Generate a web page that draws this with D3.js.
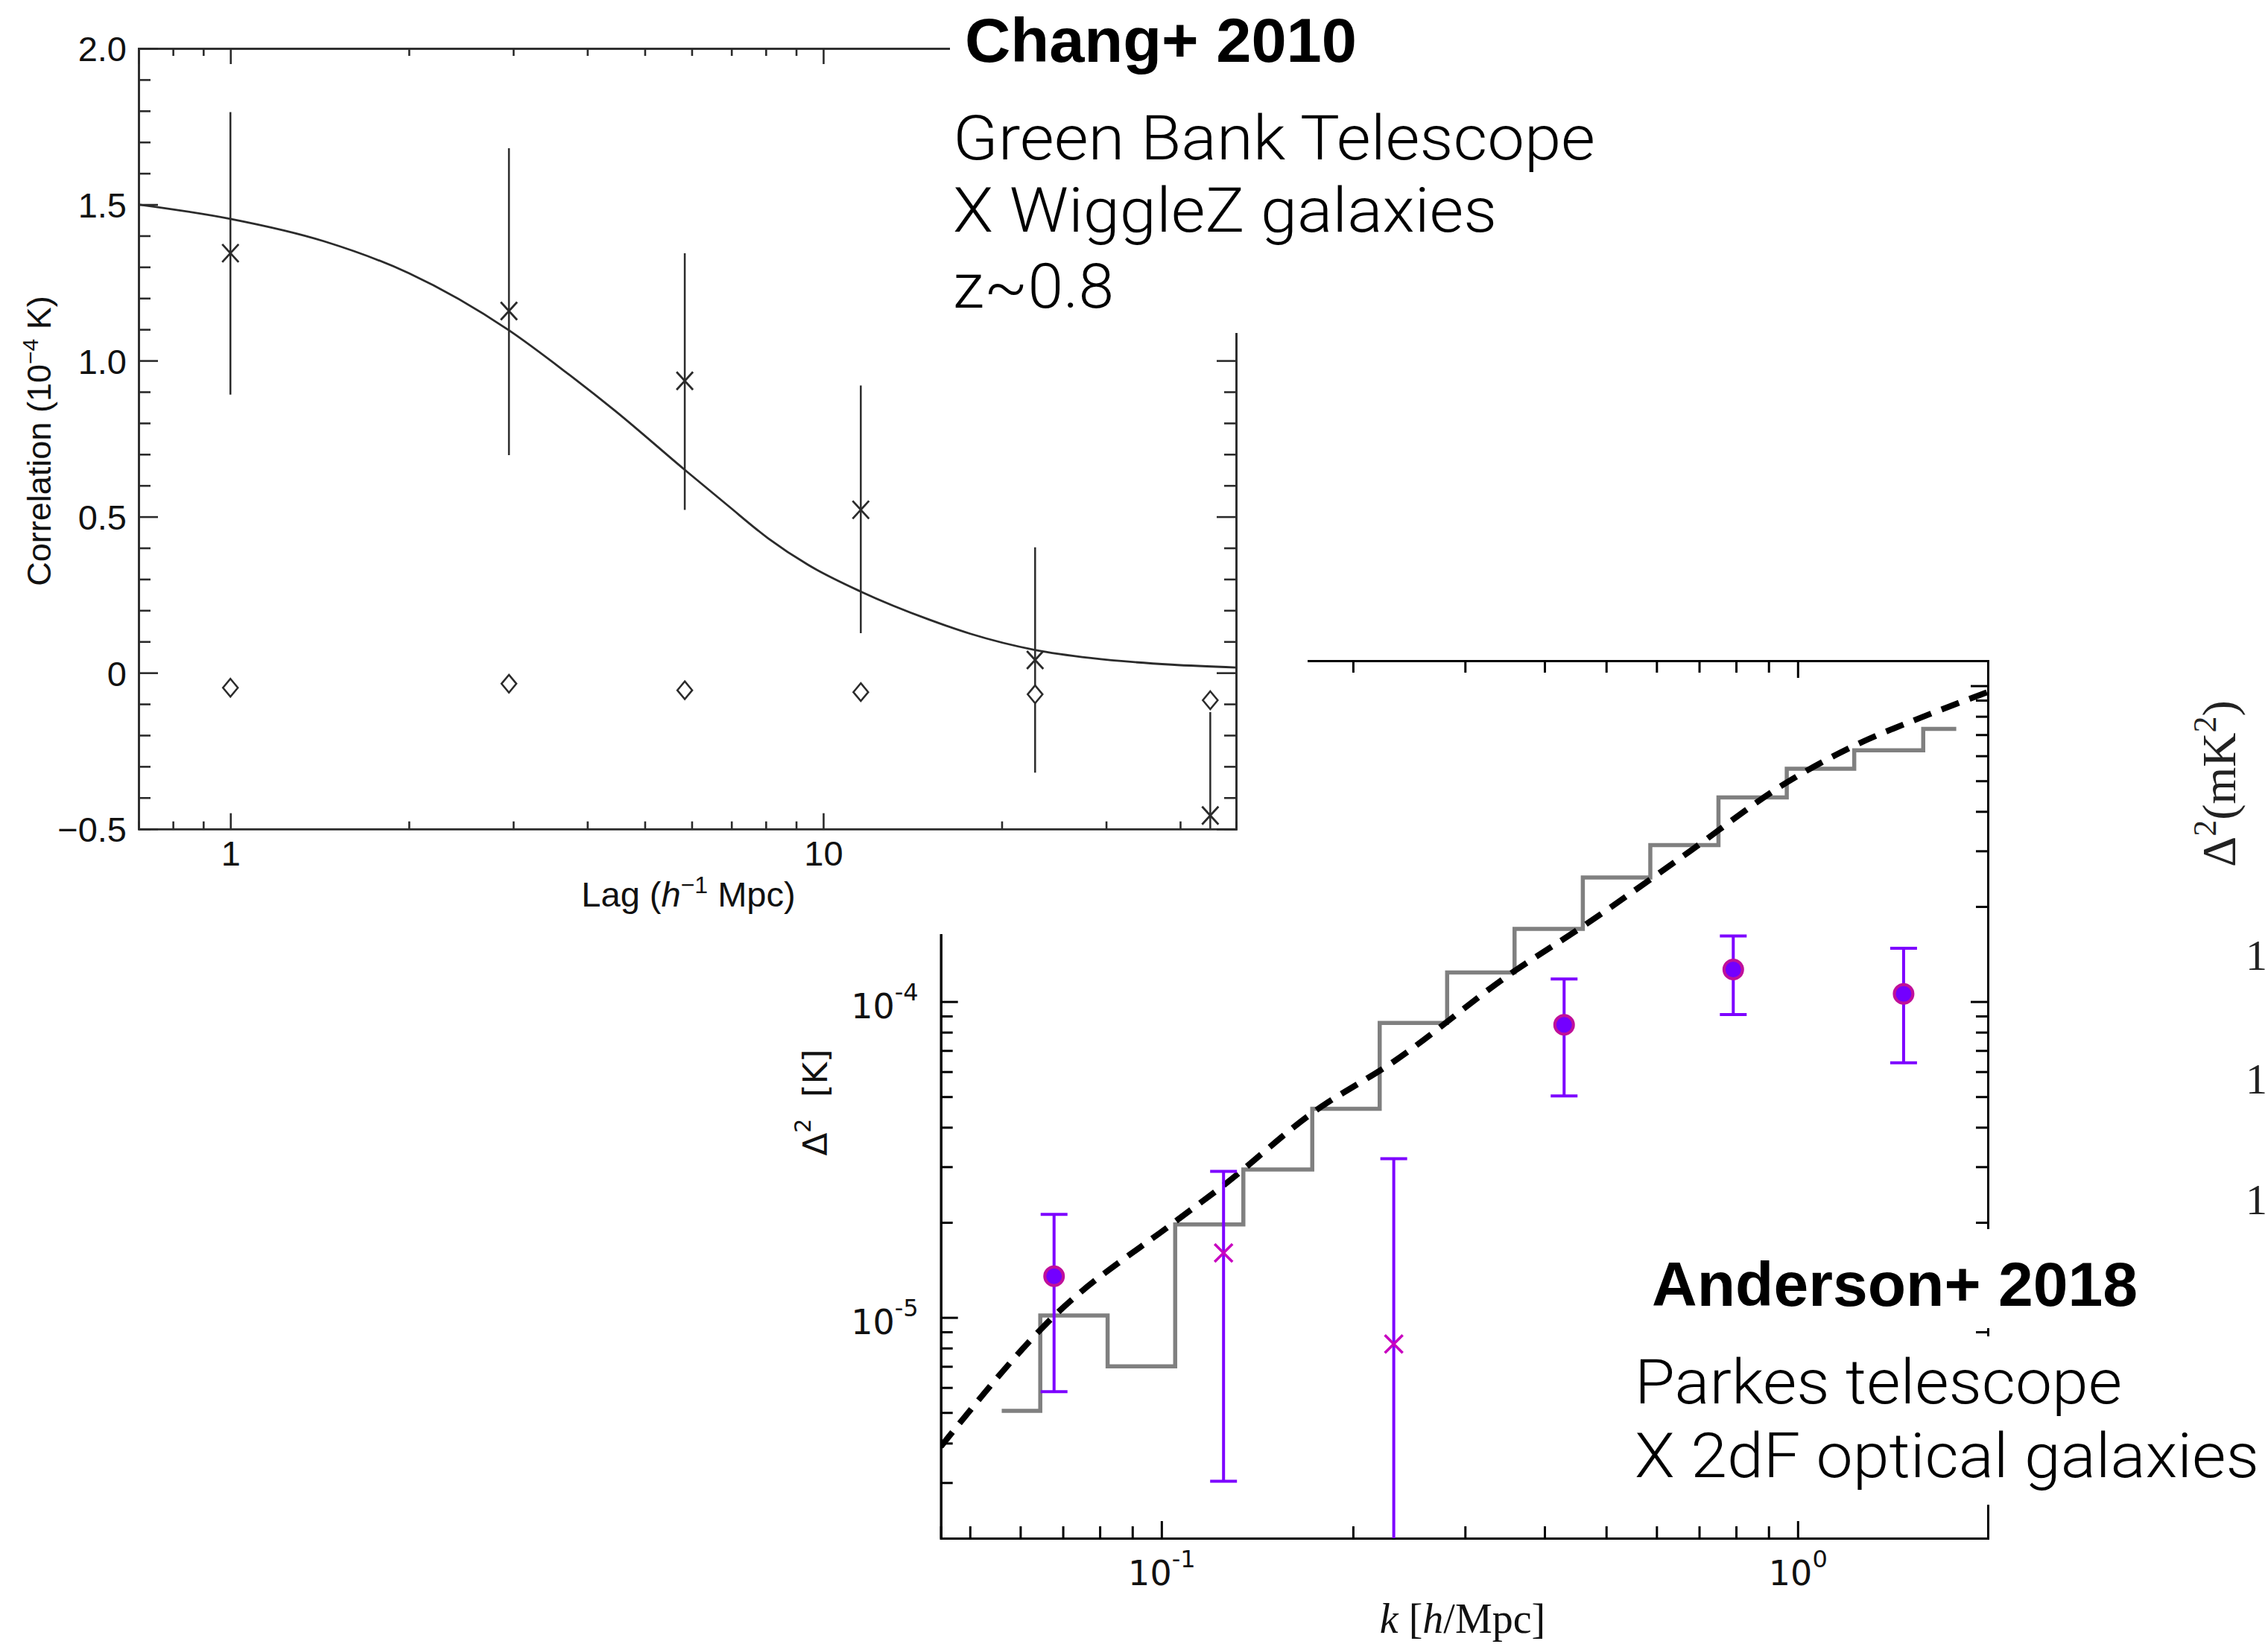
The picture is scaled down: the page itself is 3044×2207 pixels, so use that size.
<!DOCTYPE html>
<html>
<head>
<meta charset="utf-8">
<script src="https://cdn.jsdelivr.net/npm/d3@7/dist/d3.min.js"></script>
<style>
  body { margin: 0; background: #fff; }
  svg { display: block; }
</style>
</head>
<body>
<div id="chart"></div>
<script>
// Chang+ 2010 : correlation vs lag
var lag = [1, 2.95, 5.84, 11.57, 22.77, 44.96];
var corr = [1.344, 1.159, 0.935, 0.522, 0.041, -0.457];
var corrHi = [1.796, 1.680, 1.344, 0.920, 0.402, -0.126];
var corrLo = [0.891, 0.697, 0.522, 0.127, -0.320, -0.5];
var nullCorr = [-0.048, -0.035, -0.056, -0.062, -0.069, -0.088];
var modelLag = [0.70, 1.0, 1.44, 2.0, 2.95, 3.68, 4.45, 5.84, 6.90, 8.07, 9.44, 11.57, 15.1, 17.7, 22.77, 28.3, 38.7, 49.7];
var modelCorr = [1.500, 1.454, 1.382, 1.280, 1.097, 0.963, 0.840, 0.650, 0.536, 0.431, 0.345, 0.260, 0.170, 0.125, 0.073, 0.047, 0.026, 0.017];
var corrTicks = [2.0, 1.5, 1.0, 0.5, 0, -0.5];
var corrLabels = ['2.0', '1.5', '1.0', '0.5', '0', '\u22120.5'];
var corrMinor = [1.9, 1.8, 1.7, 1.6, 1.4, 1.3, 1.2, 1.1, 0.9, 0.8, 0.7, 0.6, 0.4, 0.3, 0.2, 0.1, -0.1, -0.2, -0.3, -0.4];
var lagTicks = [1, 10];
var lagMinor = [0.8, 0.9, 2, 3, 4, 5, 6, 7, 8, 9, 20, 30, 40];

// Anderson+ 2018 : Delta^2 vs k
var kDot = [0.0678, 0.4294, 0.792, 1.467];
var dDot = [1.35e-5, 8.44e-5, 1.264e-4, 1.058e-4];
var dDotHi = [2.12e-5, 1.179e-4, 1.614e-4, 1.476e-4];
var dDotLo = [5.82e-6, 5.03e-5, 9.1e-5, 6.4e-5];
var kCross = [0.1252, 0.2318];
var dCross = [1.6e-5, 8.24e-6];
var dCrossHi = [2.9e-5, 3.18e-5];
var dCrossLo = [3.03e-6, 1.5e-6];
var kEdges = [0.0561, 0.0645, 0.0823, 0.1051, 0.1345, 0.1726, 0.2203, 0.2812, 0.3589, 0.4595, 0.5866, 0.7507, 0.9612, 1.227, 1.575, 1.775];
var dStep = [5.06e-6, 1.015e-5, 7.0e-6, 1.97e-5, 2.94e-5, 4.58e-5, 8.56e-5, 1.236e-4, 1.70e-4, 2.47e-4, 3.13e-4, 4.43e-4, 5.46e-4, 6.25e-4, 7.30e-4];
var kModel = [0.045, 0.0678, 0.1047, 0.1252, 0.1726, 0.2318, 0.3547, 0.4595, 0.6624, 0.9612, 1.227, 1.575, 1.99];
var dModel = [3.9e-6, 1.01e-5, 2.0e-5, 2.62e-5, 4.44e-5, 6.46e-5, 1.23e-4, 1.73e-4, 2.90e-4, 4.94e-4, 6.46e-4, 7.98e-4, 9.55e-4];
var kTicks = [0.1, 1];
var kLabels = ['-1', '0'];
var kMinor = [0.05, 0.06, 0.07, 0.08, 0.09, 0.2, 0.3, 0.4, 0.5, 0.6, 0.7, 0.8, 0.9];
var dTicks = [1e-5, 1e-4, 1e-3];
var dLabels = ['-5', '-4', '-3'];
var dMinor = [2e-6, 3e-6, 4e-6, 5e-6, 6e-6, 7e-6, 8e-6, 9e-6, 2e-5, 3e-5, 4e-5, 5e-5, 6e-5, 7e-5, 8e-5, 9e-5, 2e-4, 3e-4, 4e-4, 5e-4, 6e-4, 7e-4, 8e-4, 9e-4];

// third panel peeking in on the right (only the first digit of its labels shows)
var farTickY = [1283, 1449, 1611];

var width = 3044, height = 2207;
var svg = d3.select('#chart').append('svg')
    .attr('width', width)
    .attr('height', height);
svg.append('rect').attr('width', width).attr('height', height).attr('fill', '#fff');

function styleAxis(g, color, w) {
    g.selectAll('path, line').attr('stroke', color).attr('stroke-width', w);
    return g;
}

// ---------------- Anderson+ 2018 ----------------
var ax = d3.scaleLog().domain([0.045, 1.99]).range([1262.7, 2668]);
var ay = d3.scaleLog().domain([2.0e-6, 1.2e-3]).range([2065, 887]);
var A = svg.append('g');

A.append('clipPath').attr('id', 'clipA').append('rect')
    .attr('x', ax.range()[0]).attr('y', ay.range()[1])
    .attr('width', ax.range()[1] - ax.range()[0])
    .attr('height', ay.range()[0] - ay.range()[1]);

var aBottom = A.append('g').attr('transform', 'translate(0,' + ay.range()[0] + ')');
styleAxis(aBottom.call(d3.axisBottom(ax).tickValues(kMinor).tickSize(-16).tickFormat('')), '#000', 3);
var aBottomMaj = A.append('g').attr('transform', 'translate(0,' + ay.range()[0] + ')')
    .call(d3.axisBottom(ax).tickValues(kTicks).tickSizeInner(-23).tickSizeOuter(0).tickPadding(30));
styleAxis(aBottomMaj, '#000', 3);
aBottomMaj.attr('font-family', 'DejaVu Sans').attr('font-size', 46);
aBottomMaj.selectAll('text').each(function (d, i) {
    var t = d3.select(this).text(null).attr('fill', '#111').attr('dy', '0.71em');
    t.append('tspan').text('10');
    t.append('tspan').attr('dy', -24).attr('font-size', 32).text(kLabels[i]);
});

var aTop = A.append('g').attr('transform', 'translate(0,' + ay.range()[1] + ')');
styleAxis(aTop.call(d3.axisBottom(ax).tickValues(kMinor).tickSize(16).tickFormat('')), '#000', 3);
styleAxis(A.append('g').attr('transform', 'translate(0,' + ay.range()[1] + ')')
    .call(d3.axisBottom(ax).tickValues(kTicks).tickSize(23).tickFormat('')), '#000', 3);

var aLeft = A.append('g').attr('transform', 'translate(' + ax.range()[0] + ',0)');
styleAxis(aLeft.call(d3.axisLeft(ay).tickValues(dMinor).tickSize(-16).tickFormat('')), '#000', 3);
var aLeftMaj = A.append('g').attr('transform', 'translate(' + ax.range()[0] + ',0)')
    .call(d3.axisLeft(ay).tickValues(dTicks).tickSizeInner(-23).tickSizeOuter(0).tickPadding(30));
styleAxis(aLeftMaj, '#000', 3);
aLeftMaj.attr('font-family', 'DejaVu Sans').attr('font-size', 46);
aLeftMaj.selectAll('text').each(function (d, i) {
    var t = d3.select(this).text(null).attr('fill', '#111').attr('dy', '0.47em');
    t.append('tspan').text('10');
    t.append('tspan').attr('dy', -24).attr('font-size', 32).text(dLabels[i]);
});

var aRight = A.append('g').attr('transform', 'translate(' + ax.range()[1] + ',0)');
styleAxis(aRight.call(d3.axisLeft(ay).tickValues(dMinor).tickSize(16).tickFormat('')), '#000', 3);
styleAxis(A.append('g').attr('transform', 'translate(' + ax.range()[1] + ',0)')
    .call(d3.axisLeft(ay).tickValues(dTicks).tickSize(23).tickFormat('')), '#000', 3);

var aPlot = A.append('g').attr('clip-path', 'url(#clipA)');

// binned step model
var stepPts = kEdges.map(function (k, i) { return [k, dStep[Math.min(i, dStep.length - 1)]]; });
aPlot.append('path')
    .datum(stepPts)
    .attr('d', d3.line().x(function (d) { return ax(d[0]); }).y(function (d) { return ay(d[1]); }).curve(d3.curveStepAfter))
    .attr('fill', 'none').attr('stroke', '#808080').attr('stroke-width', 5.5);

// dashed model
aPlot.append('path')
    .datum(d3.zip(kModel, dModel))
    .attr('d', d3.line().x(function (d) { return ax(d[0]); }).y(function (d) { return ay(d[1]); }).curve(d3.curveMonotoneX))
    .attr('fill', 'none').attr('stroke', '#000').attr('stroke-width', 8)
    .attr('stroke-dasharray', '25,15');

var violet = '#7d00ff';
// error bars (dots)
var dotBars = aPlot.selectAll('.dotbar').data(d3.range(kDot.length)).enter().append('g');
dotBars.append('line')
    .attr('x1', function (i) { return ax(kDot[i]); }).attr('x2', function (i) { return ax(kDot[i]); })
    .attr('y1', function (i) { return ay(dDotHi[i]); }).attr('y2', function (i) { return ay(dDotLo[i]); });
dotBars.append('line')
    .attr('x1', function (i) { return ax(kDot[i]) - 18; }).attr('x2', function (i) { return ax(kDot[i]) + 18; })
    .attr('y1', function (i) { return ay(dDotHi[i]); }).attr('y2', function (i) { return ay(dDotHi[i]); });
dotBars.append('line')
    .attr('x1', function (i) { return ax(kDot[i]) - 18; }).attr('x2', function (i) { return ax(kDot[i]) + 18; })
    .attr('y1', function (i) { return ay(dDotLo[i]); }).attr('y2', function (i) { return ay(dDotLo[i]); });
dotBars.selectAll('line').attr('stroke', violet).attr('stroke-width', 4);

// error bars (crosses)
var crossBars = aPlot.selectAll('.crossbar').data(d3.range(kCross.length)).enter().append('g');
crossBars.append('line')
    .attr('x1', function (i) { return ax(kCross[i]); }).attr('x2', function (i) { return ax(kCross[i]); })
    .attr('y1', function (i) { return ay(dCrossHi[i]); }).attr('y2', function (i) { return ay(dCrossLo[i]); });
crossBars.append('line')
    .attr('x1', function (i) { return ax(kCross[i]) - 18; }).attr('x2', function (i) { return ax(kCross[i]) + 18; })
    .attr('y1', function (i) { return ay(dCrossHi[i]); }).attr('y2', function (i) { return ay(dCrossHi[i]); });
crossBars.append('line')
    .attr('x1', function (i) { return ax(kCross[i]) - 18; }).attr('x2', function (i) { return ax(kCross[i]) + 18; })
    .attr('y1', function (i) { return ay(dCrossLo[i]); }).attr('y2', function (i) { return ay(dCrossLo[i]); });
crossBars.selectAll('line').attr('stroke', violet).attr('stroke-width', 4);

aPlot.selectAll('.dot').data(d3.range(kDot.length)).enter().append('circle')
    .attr('cx', function (i) { return ax(kDot[i]); })
    .attr('cy', function (i) { return ay(dDot[i]); })
    .attr('r', 12.5)
    .attr('fill', '#7300ff').attr('stroke', '#c0109a').attr('stroke-width', 4);

var crossG = aPlot.selectAll('.cross').data(d3.range(kCross.length)).enter().append('g')
    .attr('transform', function (i) { return 'translate(' + ax(kCross[i]) + ',' + ay(dCross[i]) + ')'; });
crossG.append('path').attr('d', 'M-12,-12L12,12M-12,12L12,-12')
    .attr('stroke', '#c800c0').attr('stroke-width', 3.6);

// axis titles
A.append('text')
    .attr('transform', 'translate(1110,1480) rotate(-90)')
    .attr('text-anchor', 'middle')
    .attr('font-family', 'DejaVu Sans').attr('font-size', 45).attr('fill', '#111')
    .call(function (t) {
        t.append('tspan').text('\u0394');
        t.append('tspan').attr('dy', -22).attr('font-size', 30).text('2');
        t.append('tspan').attr('dy', 22).text('\u00a0\u00a0[K]');
    });
A.append('text')
    .attr('x', 1963).attr('y', 2192)
    .attr('text-anchor', 'middle')
    .attr('font-family', 'Liberation Serif').attr('font-size', 56).attr('fill', '#111')
    .call(function (t) {
        t.append('tspan').attr('font-style', 'italic').text('k');
        t.append('tspan').text(' [');
        t.append('tspan').attr('font-style', 'italic').text('h');
        t.append('tspan').text('/Mpc]');
    });

// ---------------- partial third panel ----------------
svg.append('text')
    .attr('transform', 'translate(3000,1052) rotate(-90)')
    .attr('text-anchor', 'middle')
    .attr('font-family', 'Liberation Serif').attr('font-size', 64).attr('fill', '#222')
    .call(function (t) {
        t.append('tspan').text('\u0394');
        t.append('tspan').attr('dy', -26).attr('font-size', 44).text('2');
        t.append('tspan').attr('dy', 26).text('(mK');
        t.append('tspan').attr('dy', -26).attr('font-size', 44).text('2');
        t.append('tspan').attr('dy', 26).text(')');
    });
svg.selectAll('.fartick').data(farTickY).enter().append('text')
    .attr('x', 3014).attr('y', function (d) { return d + 19; })
    .attr('font-family', 'Liberation Serif').attr('font-size', 58).attr('fill', '#222')
    .text('1');

// ---------------- Chang+ 2010 ----------------
svg.append('rect').attr('x', 0).attr('y', 0).attr('width', 1755).attr('height', 1254).attr('fill', '#fff');

var cx = d3.scaleLog().domain([0.7, 49.7]).range([186, 1659]);
var cy = d3.scaleLinear().domain([-0.5, 2.0]).range([1112.7, 65]);
var C = svg.append('g');
var ink = '#2b2b2b';

C.append('clipPath').attr('id', 'clipC').append('rect')
    .attr('x', cx.range()[0]).attr('y', cy.range()[1])
    .attr('width', cx.range()[1] - cx.range()[0])
    .attr('height', cy.range()[0] - cy.range()[1]);

var cBottom = C.append('g').attr('transform', 'translate(0,' + cy.range()[0] + ')');
styleAxis(cBottom.call(d3.axisBottom(cx).tickValues(lagMinor).tickSize(-10).tickFormat('')), ink, 2.6);
var cBottomMaj = C.append('g').attr('transform', 'translate(0,' + cy.range()[0] + ')')
    .call(d3.axisBottom(cx).tickValues(lagTicks).tickSizeInner(-21).tickSizeOuter(0).tickPadding(16).tickFormat(d3.format('d')));
styleAxis(cBottomMaj, ink, 2.6);
cBottomMaj.attr('font-family', 'Liberation Sans').attr('font-size', 47);
cBottomMaj.selectAll('text').attr('fill', '#111');

styleAxis(C.append('g').attr('transform', 'translate(0,' + cy.range()[1] + ')')
    .call(d3.axisBottom(cx).tickValues(lagMinor).tickSize(10).tickFormat('')), ink, 2.6);
styleAxis(C.append('g').attr('transform', 'translate(0,' + cy.range()[1] + ')')
    .call(d3.axisBottom(cx).tickValues(lagTicks).tickSize(21).tickFormat('')), ink, 2.6);

styleAxis(C.append('g').attr('transform', 'translate(' + cx.range()[0] + ',0)')
    .call(d3.axisLeft(cy).tickValues(corrMinor).tickSize(-16).tickFormat('')), ink, 2.6);
var cLeftMaj = C.append('g').attr('transform', 'translate(' + cx.range()[0] + ',0)')
    .call(d3.axisLeft(cy).tickValues(corrTicks).tickSizeInner(-26).tickSizeOuter(0).tickPadding(16)
        .tickFormat(function (d, i) { return corrLabels[i]; }));
styleAxis(cLeftMaj, ink, 2.6);
cLeftMaj.attr('font-family', 'Liberation Sans').attr('font-size', 47);
cLeftMaj.selectAll('text').attr('fill', '#111').attr('dy', '0.36em');

styleAxis(C.append('g').attr('transform', 'translate(' + cx.range()[1] + ',0)')
    .call(d3.axisLeft(cy).tickValues(corrMinor).tickSize(16).tickFormat('')), ink, 2.6);
styleAxis(C.append('g').attr('transform', 'translate(' + cx.range()[1] + ',0)')
    .call(d3.axisLeft(cy).tickValues(corrTicks).tickSize(26).tickFormat('')), ink, 2.6);

var cPlot = C.append('g').attr('clip-path', 'url(#clipC)');

cPlot.append('path')
    .datum(d3.zip(modelLag, modelCorr))
    .attr('d', d3.line().x(function (d) { return cx(d[0]); }).y(function (d) { return cy(d[1]); }).curve(d3.curveMonotoneX))
    .attr('fill', 'none').attr('stroke', ink).attr('stroke-width', 2.8);

cPlot.selectAll('.ebar').data(d3.range(lag.length)).enter().append('line')
    .attr('x1', function (i) { return cx(lag[i]); }).attr('x2', function (i) { return cx(lag[i]); })
    .attr('y1', function (i) { return cy(corrHi[i]); }).attr('y2', function (i) { return cy(corrLo[i]); })
    .attr('stroke', ink).attr('stroke-width', 2.5);

cPlot.selectAll('.xmark').data(d3.range(lag.length)).enter().append('path')
    .attr('transform', function (i) { return 'translate(' + cx(lag[i]) + ',' + cy(corr[i]) + ')'; })
    .attr('d', 'M-11,-12L11,12M-11,12L11,-12')
    .attr('fill', 'none').attr('stroke', ink).attr('stroke-width', 2.8);

cPlot.selectAll('.diamond').data(d3.range(lag.length)).enter().append('path')
    .attr('transform', function (i) { return 'translate(' + cx(lag[i]) + ',' + cy(nullCorr[i]) + ')'; })
    .attr('d', 'M0,-12L10,0L0,12L-10,0Z')
    .attr('fill', '#fff').attr('stroke', ink).attr('stroke-width', 2.5);

C.append('text')
    .attr('transform', 'translate(68,592) rotate(-90)')
    .attr('text-anchor', 'middle')
    .attr('font-family', 'Liberation Sans').attr('font-size', 45).attr('fill', '#111')
    .call(function (t) {
        t.append('tspan').text('Correlation (10');
        t.append('tspan').attr('dy', -17).attr('font-size', 30).text('\u22124');
        t.append('tspan').attr('dy', 17).text(' K)');
    });
C.append('text')
    .attr('x', 924).attr('y', 1217)
    .attr('text-anchor', 'middle')
    .attr('font-family', 'Liberation Sans').attr('font-size', 47).attr('fill', '#111')
    .call(function (t) {
        t.append('tspan').text('Lag (');
        t.append('tspan').attr('font-style', 'italic').text('h');
        t.append('tspan').attr('dy', -18).attr('font-size', 32).text('\u22121');
        t.append('tspan').attr('dy', 18).text(' Mpc)');
    });

// ---------------- title boxes ----------------
svg.append('rect').attr('x', 1275).attr('y', 0).attr('width', 900).attr('height', 447).attr('fill', '#fff');
svg.append('rect').attr('x', 2190).attr('y', 1650).attr('width', 854).attr('height', 133).attr('fill', '#fff');
svg.append('rect').attr('x', 2190).attr('y', 1794).attr('width', 854).attr('height', 226).attr('fill', '#fff');

var titles = [
    { text: 'Chang+ 2010', x: 1295, y: 83, len: 526, bold: true },
    { text: 'Green Bank Telescope', x: 1279, y: 214, len: 862, bold: false },
    { text: 'X WiggleZ galaxies', x: 1279, y: 311, len: 730, bold: false },
    { text: 'z~0.8', x: 1279, y: 413, len: 216, bold: false },
    { text: 'Anderson+ 2018', x: 2217, y: 1753, len: 652, bold: true },
    { text: 'Parkes telescope', x: 2194, y: 1884, len: 654, bold: false },
    { text: 'X 2dF optical galaxies', x: 2194, y: 1983, len: 838, bold: false }
];
svg.selectAll('.title').data(titles).enter().append('text')
    .attr('x', function (d) { return d.x; })
    .attr('y', function (d) { return d.y; })
    .attr('font-family', function (d) { return d.bold ? 'Liberation Sans' : 'Roboto, Lato, Liberation Sans'; })
    .attr('font-weight', function (d) { return d.bold ? 700 : 300; })
    .attr('font-size', 84)
    .attr('fill', '#000')
    .attr('textLength', function (d) { return d.len; })
    .attr('lengthAdjust', 'spacingAndGlyphs')
    .text(function (d) { return d.text; });
</script>
</body>
</html>
